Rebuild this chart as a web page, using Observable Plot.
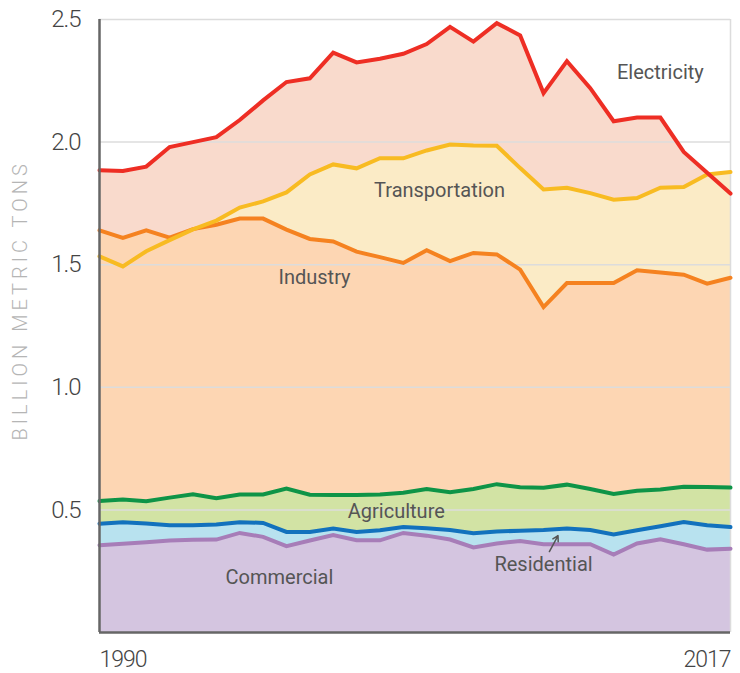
<!DOCTYPE html>
<html>
<head>
<meta charset="utf-8">
<script src="https://cdn.jsdelivr.net/npm/d3@7"></script>
<script src="https://cdn.jsdelivr.net/npm/@observablehq/plot@0.6"></script>
<style>
  html, body { margin: 0; padding: 0; background: #fff; }
  #chart svg { display: block; }
</style>
</head>
<body>
<div id="chart"></div>
<script>
const years = d3.range(1990, 2018);

const electricity = [1.885, 1.882, 1.90, 1.98, 2.00, 2.02, 2.09, 2.17, 2.245, 2.26, 2.365, 2.325, 2.34, 2.36, 2.40, 2.47, 2.41, 2.485, 2.435, 2.20, 2.33, 2.22, 2.085, 2.10, 2.10, 1.96, 1.875, 1.79];
const transportation = [1.534, 1.493, 1.555, 1.60, 1.644, 1.68, 1.733, 1.758, 1.795, 1.868, 1.909, 1.893, 1.934, 1.934, 1.966, 1.99, 1.986, 1.985, 1.894, 1.807, 1.814, 1.792, 1.765, 1.772, 1.814, 1.817, 1.868, 1.878];
const industry = [1.64, 1.609, 1.64, 1.61, 1.645, 1.663, 1.688, 1.688, 1.643, 1.605, 1.595, 1.553, 1.531, 1.507, 1.559, 1.515, 1.548, 1.542, 1.48, 1.327, 1.425, 1.425, 1.425, 1.477, 1.468, 1.459, 1.423, 1.447];
const agriculture = [0.536, 0.542, 0.535, 0.55, 0.564, 0.548, 0.563, 0.563, 0.587, 0.562, 0.561, 0.561, 0.563, 0.57, 0.585, 0.572, 0.585, 0.605, 0.592, 0.59, 0.603, 0.585, 0.565, 0.578, 0.583, 0.594, 0.593, 0.591];
const residential = [0.444, 0.45, 0.445, 0.437, 0.437, 0.44, 0.45, 0.447, 0.41, 0.41, 0.424, 0.41, 0.417, 0.43, 0.425, 0.418, 0.405, 0.412, 0.415, 0.418, 0.424, 0.418, 0.40, 0.417, 0.433, 0.451, 0.437, 0.43];
const commercial = [0.356, 0.362, 0.368, 0.375, 0.378, 0.379, 0.406, 0.39, 0.352, 0.375, 0.397, 0.376, 0.376, 0.406, 0.395, 0.379, 0.347, 0.363, 0.373, 0.36, 0.36, 0.36, 0.318, 0.363, 0.38, 0.36, 0.338, 0.342];

const yTicks = [0.5, 1.0, 1.5, 2.0, 2.5];
const xTickLabels = [1990, 2017];
const yLabel = "BILLION METRIC TONS";

const labelNames = ["Electricity", "Transportation", "Industry", "Agriculture", "Residential", "Commercial"];
const labelYears = [2014.0, 2004.55, 1999.2, 2002.7, 2009.0, 1997.7];
const labelValues = [2.284, 1.803, 1.448, 0.494, 0.278, 0.225];

// arrow from the "Residential" label to its band
const arrowFrom = [2009.25, 0.33];
const arrowTo = [2009.62, 0.395];

const series = [
  {name: "Electricity", values: electricity, fill: "#f9dacc", stroke: "#ee2e24"},
  {name: "Transportation", values: transportation, fill: "#fbebc6", stroke: "#f8bb22"},
  {name: "Industry", values: industry, fill: "#fdd6b3", stroke: "#f58220"},
  {name: "Agriculture", values: agriculture, fill: "#d2e3a4", stroke: "#0e9447"},
  {name: "Residential", values: residential, fill: "#b8e2ef", stroke: "#1271bd"},
  {name: "Commercial", values: commercial, fill: "#d4c5e0", stroke: "#a77db8"}
];
const rows = s => years.map((year, i) => ({year, value: s.values[i]}));

const lineOrder = ["Industry", "Transportation", "Electricity", "Agriculture", "Residential", "Commercial"];

const labels = labelNames.map((name, i) => ({name, year: labelYears[i], value: labelValues[i]}));

const plot = Plot.plot({
  width: 740,
  height: 673,
  marginLeft: 99,
  marginRight: 10,
  marginTop: 19,
  marginBottom: 41,
  style: {fontFamily: "Roboto, sans-serif", background: "#fff"},
  x: {domain: [1990, 2017]},
  y: {domain: [0, 2.5]},
  marks: [
    // areas, drawn from the top series down
    ...series.map(s => Plot.areaY(rows(s), {x: "year", y1: 0, y2: "value", fill: s.fill})),
    // grid
    Plot.ruleY(yTicks, {stroke: "#dcdcdc", strokeWidth: 1.5}),
    Plot.ruleX([2017], {stroke: "#dcdcdc", strokeWidth: 1.5}),
    // lines
    ...lineOrder.map(n => {
      const s = series.find(d => d.name === n);
      return Plot.line(rows(s), {x: "year", y: "value", stroke: s.stroke, strokeWidth: 4, strokeLinejoin: "miter", strokeMiterlimit: 4});
    }),
    // axes lines
    Plot.ruleX([1990], {stroke: "#666", strokeWidth: 2.5}),
    Plot.ruleY([0], {stroke: "#666", strokeWidth: 2.5}),
    // y axis
    Plot.axisY({
      ticks: yTicks, tickSize: 0, tickPadding: 19, tickFormat: d3.format(".1f"),
      fontSize: 24, fontWeight: 300, fill: "#444", label: null
    }),
    // x axis labels
    Plot.axisX({ticks: [xTickLabels[0]], tickSize: 0, tickPadding: 18, textAnchor: "start", tickFormat: d => String(d), fontSize: 23, fontWeight: 300, fill: "#444", label: null}),
    Plot.axisX({ticks: [xTickLabels[1]], tickSize: 0, tickPadding: 18, textAnchor: "end", tickFormat: d => String(d), fontSize: 23, fontWeight: 300, fill: "#444", label: null}),
    // y label (starts at the bottom, reads upward)
    Plot.text([yLabel], {text: d => d, frameAnchor: "bottom-left", textAnchor: "start", rotate: -90, dx: -73, dy: -192, fontSize: 20, fontWeight: 300, fill: "#b5b5b5"}),
    // series labels
    Plot.text(labels, {x: "year", y: "value", text: "name", fontSize: 20, fill: "#555"}),
    Plot.arrow([{}], {x1: () => arrowFrom[0], y1: () => arrowFrom[1], x2: () => arrowTo[0], y2: () => arrowTo[1], stroke: "#555", strokeWidth: 1.5, headLength: 7})
  ]
});

d3.select(plot).selectAll("text").each(function() {
  const t = d3.select(this);
  if (t.text() === yLabel) t.attr("letter-spacing", "4px");
});
d3.select(plot).selectAll('[aria-label="y-axis tick label"] text, [aria-label="x-axis tick label"] text').attr("letter-spacing", "-1px");

document.getElementById("chart").appendChild(plot);
</script>
</body>
</html>
